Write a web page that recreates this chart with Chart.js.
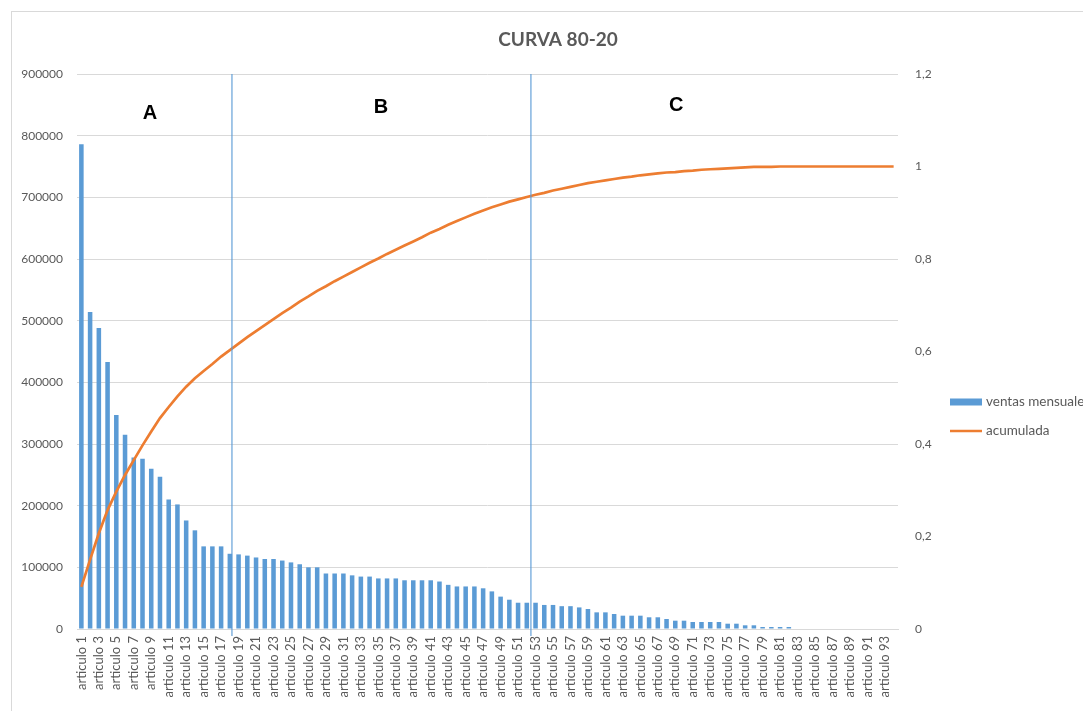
<!DOCTYPE html>
<html>
<head>
<meta charset="utf-8">
<script src="https://cdn.jsdelivr.net/npm/chart.js@4/dist/chart.umd.min.js"></script>
<style>
  html, body { margin: 0; padding: 0; background: #fff; }
</style>
</head>
<body>
<canvas id="chart" width="1083" height="711"></canvas>
<script>
// articulo 1 .. articulo 94
const articulos = Array.from({ length: 94 }, (_, i) => "articulo " + (i + 1));

// ventas mensuales
const ventas = [
  786000, 514000, 488000, 433000, 347000, 315000, 278000, 276000, 260000, 247000,
  210000, 202000, 176000, 160000, 134000, 134000, 134000, 122000, 121000, 119000,
  116000, 113500, 113500, 111000, 108000, 105000, 100000, 100000, 90000, 90000,
  90000, 87000, 85000, 85000, 82000, 82000, 82000, 79000, 79000, 79000,
  79000, 77000, 71600, 69000, 69000, 69000, 66000, 61000, 52500, 47500,
  42600, 42600, 42600, 39000, 39000, 37000, 37000, 35000, 32400, 27000,
  27000, 24300, 21600, 21600, 21600, 19000, 19000, 16200, 13500, 13500,
  11400, 11400, 11400, 11400, 8600, 8600, 6000, 6000, 3200, 3200,
  3200, 3200, 0, 0, 0, 0, 0, 0, 0, 0,
  0, 0, 0, 0
];

// acumulada (right axis)
const acumulada = [
  0.091, 0.150, 0.207, 0.257, 0.297, 0.333, 0.365, 0.397, 0.427, 0.456,
  0.480, 0.503, 0.524, 0.542, 0.558, 0.573, 0.589, 0.603, 0.617, 0.631,
  0.644, 0.657, 0.670, 0.683, 0.695, 0.708, 0.719, 0.731, 0.741, 0.752,
  0.762, 0.772, 0.782, 0.792, 0.801, 0.811, 0.820, 0.829, 0.838, 0.847,
  0.857, 0.865, 0.874, 0.882, 0.890, 0.898, 0.905, 0.912, 0.918, 0.924,
  0.929, 0.934, 0.939, 0.943, 0.948, 0.952, 0.956, 0.960, 0.964, 0.967,
  0.970, 0.973, 0.976, 0.978, 0.981, 0.983, 0.985, 0.987, 0.988, 0.990,
  0.991, 0.993, 0.994, 0.995, 0.996, 0.997, 0.998, 0.999, 0.999, 0.999,
  1.000, 1.000, 1.000, 1.000, 1.000, 1.000, 1.000, 1.000, 1.000, 1.000,
  1.000, 1.000, 1.000, 1.000
];

const leftTicks = [0, 100000, 200000, 300000, 400000, 500000, 600000, 700000, 800000, 900000];
const rightTicks = ["0", "0,2", "0,4", "0,6", "0,8", "1", "1,2"];
const titulo = "CURVA 80-20";

const textGray = "#595959";
const gridGray = "#d9d9d9";
const azul = "#5b9bd5";
const naranja = "#ed7d31";

// frame, title, dividers A/B/C, legend
const extras = {
  id: "extras",
  afterDraw(chart) {
    const ctx = chart.ctx;
    const x = chart.scales.x;
    const y2 = chart.scales.y2;
    const area = chart.chartArea;
    ctx.save();

    // chart frame
    ctx.strokeStyle = gridGray;
    ctx.lineWidth = 1;
    ctx.strokeRect(11.5, 11.5, 1200, 800);

    // title
    ctx.fillStyle = textGray;
    ctx.font = "bold 19px Lato, sans-serif";
    ctx.textAlign = "center";
    ctx.textBaseline = "middle";
    ctx.fillText(titulo, 558, 40);

    // zone dividers
    ctx.strokeStyle = "rgba(91,155,213,0.75)";
    ctx.lineWidth = 1.5;
    [17.24, 51.47].forEach(v => {
      const px = x.getPixelForValue(v);
      ctx.beginPath();
      ctx.moveTo(px, area.top);
      ctx.lineTo(px, area.bottom + 7);
      ctx.stroke();
    });

    // zone letters
    ctx.fillStyle = "#000";
    ctx.font = "bold 20px 'Liberation Sans', Arial, sans-serif";
    [["A", 7.85, 1.115], ["B", 34.3, 1.127], ["C", 68.1, 1.131]].forEach(z => {
      ctx.fillText(z[0], x.getPixelForValue(z[1]), y2.getPixelForValue(z[2]));
    });

    // legend
    ctx.font = "13.5px Lato, sans-serif";
    ctx.textAlign = "left";
    const lx = 950, ly1 = 402, ly2 = 431;
    ctx.fillStyle = azul;
    ctx.fillRect(lx, ly1 - 3.5, 32, 7);
    ctx.strokeStyle = naranja;
    ctx.lineWidth = 2.5;
    ctx.beginPath();
    ctx.moveTo(lx, ly2);
    ctx.lineTo(lx + 32, ly2);
    ctx.stroke();
    ctx.fillStyle = textGray;
    ctx.fillText(chart.data.datasets[1].label, lx + 36, ly1);
    ctx.fillText(chart.data.datasets[0].label, lx + 36, ly2);

    ctx.restore();
  }
};

new Chart(document.getElementById("chart"), {
  type: "bar",
  data: {
    labels: articulos,
    datasets: [
      {
        type: "line",
        label: "acumulada",
        data: acumulada,
        yAxisID: "y2",
        borderColor: naranja,
        borderWidth: 2.7,
        pointRadius: 0,
        tension: 0,
        fill: false,
        order: 0
      },
      {
        label: "ventas mensuales",
        data: ventas,
        yAxisID: "y",
        backgroundColor: azul,
        categoryPercentage: 0.52,
        barPercentage: 1,
        order: 1
      }
    ]
  },
  options: {
    responsive: false,
    animation: false,
    layout: { padding: { top: 74, left: 0, right: 0, bottom: 0 } },
    plugins: {
      legend: { display: false },
      tooltip: { enabled: false },
      title: { display: false }
    },
    scales: {
      x: {
        offset: true,
        grid: { display: false, drawTicks: false },
        border: { color: gridGray },
        ticks: {
          autoSkip: false,
          minRotation: 90,
          maxRotation: 90,
          padding: 7,
          color: textGray,
          font: { family: "Lato", size: 13 },
          callback: function (v, i) { return i % 2 === 0 ? this.getLabelForValue(v) : ""; }
        },
        afterFit: s => { s.height = 82; }
      },
      y: {
        position: "left",
        min: leftTicks[0],
        max: leftTicks[leftTicks.length - 1],
        afterBuildTicks: s => { s.ticks = leftTicks.map(v => ({ value: v })); },
        grid: { color: gridGray, drawTicks: false },
        border: { display: false },
        ticks: {
          padding: 14,
          color: textGray,
          font: { family: "Lato", size: 12 },
          callback: v => String(v)
        },
        afterFit: s => { s.width = 77; }
      },
      y2: {
        position: "right",
        min: 0,
        max: 1.2,
        afterBuildTicks: s => { s.ticks = rightTicks.map((t, i) => ({ value: i * 0.2 })); },
        grid: { display: false, drawTicks: false },
        border: { display: false },
        ticks: {
          padding: 17,
          color: textGray,
          font: { family: "Lato", size: 12 },
          callback: (v, i) => rightTicks[i]
        },
        afterFit: s => { s.width = 185; }
      }
    }
  },
  plugins: [extras]
});
</script>
</body>
</html>
